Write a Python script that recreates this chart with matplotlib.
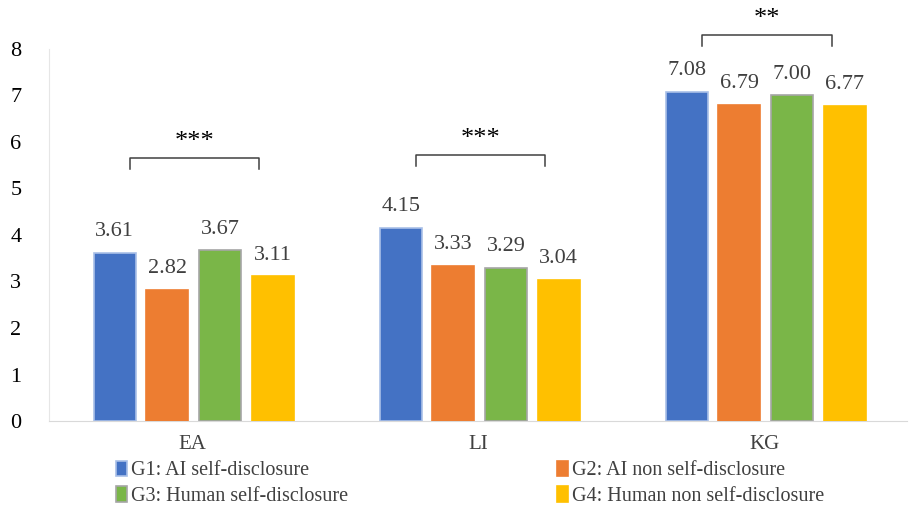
import numpy as np
import matplotlib.pyplot as plt

plt.rcParams['font.family'] = ['Liberation Serif', 'DejaVu Serif']

categories = ['EA', 'LI', 'KG']
groups = ['G1: AI self-disclosure', 'G2: AI non self-disclosure',
          'G3: Human self-disclosure', 'G4: Human non self-disclosure']
values = {
    'G1': [3.61, 4.15, 7.08],
    'G2': [2.82, 3.33, 6.79],
    'G3': [3.67, 3.29, 7.00],
    'G4': [3.11, 3.04, 6.77],
}
stars = ['***', '***', '**']
bracket_y = [5.66, 5.72, 8.3]

colors = ['#4472c4', '#ed7d31', '#7ab648', '#ffc000']
edges = ['#a9c0e8', '#ed7d31', '#a6a6a6', '#ffc000']

fig = plt.figure(figsize=(9.11, 5.08), dpi=100)
ax = fig.add_axes([0.054, 0.171, 0.942, 0.733])

x = np.arange(len(categories))
slot = 0.184
width = 0.147
offsets = (np.arange(4) - 1.5) * slot + 0.005

for i, key in enumerate(values):
    bars = ax.bar(x + offsets[i], values[key], width, color=colors[i],
                  edgecolor=edges[i], linewidth=1.2, label=groups[i], zorder=3)
    for b, v in zip(bars, values[key]):
        ax.text(b.get_x() + b.get_width() / 2, v + 0.25, f'{v:.2f}',
                ha='center', va='bottom', fontsize=16, color='#404040')

# significance brackets
for xi, s, yb in zip(x, stars, bracket_y):
    x0, x1 = xi - 0.218, xi + 0.235
    ax.plot([x0, x0, x1, x1], [yb - 0.24, yb, yb, yb - 0.24],
            color='#404040', lw=1.1, clip_on=False)
    ax.text((x0 + x1) / 2, yb + 0.1, s, ha='center', va='bottom',
            fontsize=19, color='black', clip_on=False)

ax.set_xlim(-0.5, 2.5)
ax.set_ylim(0, 8)
ax.set_xticks(x)
ax.set_xticklabels(categories, fontsize=15, color='#404040')
ax.set_yticks(range(9))
ax.tick_params(axis='y', labelsize=16, length=0, pad=20)
ax.tick_params(axis='x', length=0, pad=10)

for side in ['top', 'right']:
    ax.spines[side].set_visible(False)
ax.spines['bottom'].set_color('#d9d9d9')
ax.spines['left'].set_color('#e6e6e6')

# legend rows: G1 G2 / G3 G4
handles, labels = ax.get_legend_handles_labels()
order = [0, 2, 1, 3]
leg = fig.legend([handles[i] for i in order], [labels[i] for i in order],
                 loc='upper left', ncol=2,
                 bbox_to_anchor=(0.127, 0.093), frameon=False, fontsize=14.5,
                 handlelength=0.55, handleheight=0.8, handletextpad=0.2,
                 columnspacing=10.4, labelspacing=0.3, labelcolor='#404040',
                 borderaxespad=0, borderpad=0)

fig.savefig('out.png', dpi=100)
